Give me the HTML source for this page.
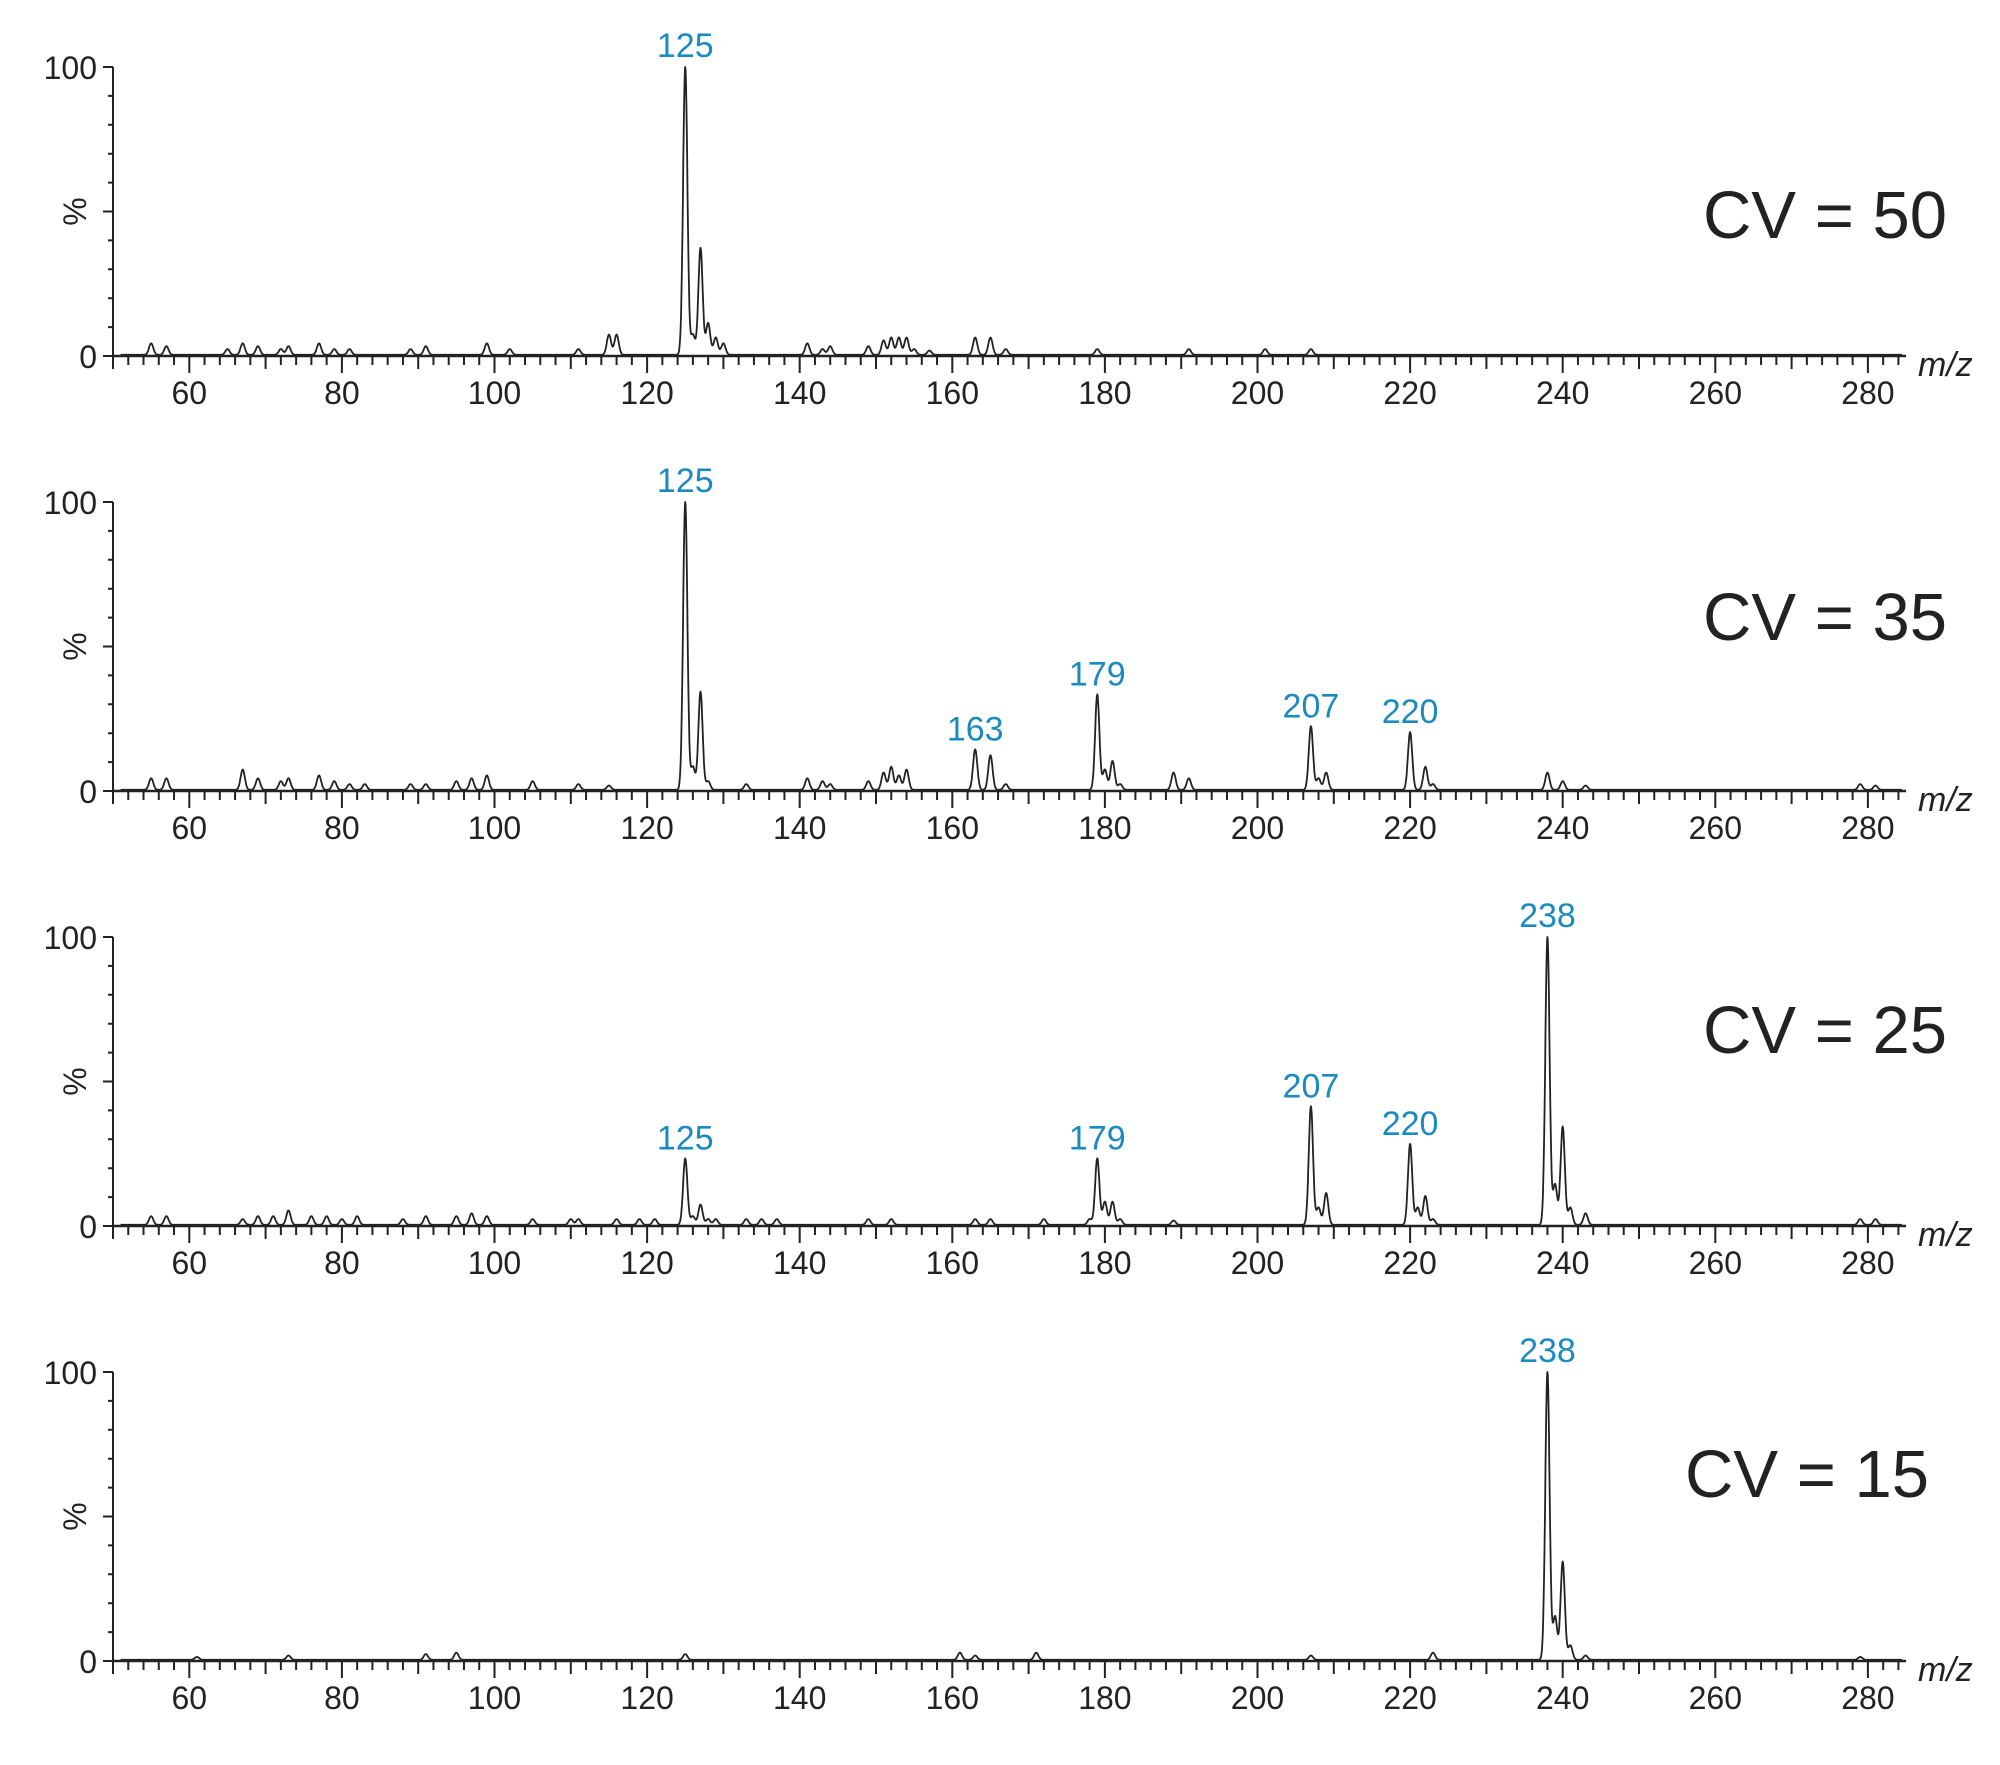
<!DOCTYPE html>
<html><head><meta charset="utf-8">
<style>
html,body{margin:0;padding:0;background:#fff;}
svg{display:block;font-family:"Liberation Sans",Arial,sans-serif;}
</style></head>
<body>
<svg id="chart" width="2000" height="1765" viewBox="0 0 2000 1765" xmlns="http://www.w3.org/2000/svg"></svg>
<script>
// ---- data ----
const panelTitles = ["CV = 50","CV = 35","CV = 25","CV = 15"];
const xTickLabels = [60,80,100,120,140,160,180,200,220,240,260,280];
const yTickLabels = ["100","%","0"];
const peaksCV50 = [[125,100],[126,7],[127,37],[128,11],[129,6],[130,4],[115,7],[116,7],[55,4],[57,3],[65,2],[67,4],[69,3],[72,2],[73,3],[77,4],[79,2],[81,2],[89,2],[91,3],[99,4],[102,2],[111,2],[141,4],[143,2],[144,3],[149,3],[151,5],[152,6],[153,6],[154,6],[155,2],[157,1.5],[163,6],[165,6],[167,2],[179,2],[191,2],[201,2],[207,2]];
const peaksCV35 = [[125,100],[126,8],[127,34],[128,3],[55,4],[57,4],[67,7],[69,4],[72,3],[73,4],[77,5],[79,3],[81,2],[83,2],[89,2],[91,2],[95,3],[97,4],[99,5],[105,3],[111,2],[115,1.5],[133,2],[141,4],[143,3],[144,2],[149,3],[151,6],[152,8],[153,5],[154,7],[163,14],[165,12],[167,2],[179,33],[180,7],[181,10],[182,2],[189,6],[191,4],[207,22],[208,4],[209,6],[220,20],[222,8],[223,2],[238,6],[240,3],[243,1.5],[279,2],[281,1.5]];
const peaksCV25 = [[125,23],[126,3],[127,7],[128,2],[179,23],[180,8],[181,8],[182,2],[207,41],[208,6],[209,11],[220,28],[221,6],[222,10],[223,2],[238,100],[239,14],[240,34],[241,6],[243,4],[55,3],[57,3],[67,2],[69,3],[71,3],[73,5],[76,3],[78,3],[80,2],[82,3],[88,2],[91,3],[95,3],[97,4],[99,3],[105,2],[110,2],[111,2],[116,2],[119,2],[121,2],[129,2],[133,2],[135,2],[137,2],[149,2],[152,2],[163,2],[165,2],[172,2],[178,2],[189,1.5],[279,2],[281,2]];
const peaksCV15 = [[238,100],[239,15],[240,34],[241,5],[243,1.5],[61,1],[73,1.5],[91,2],[95,2.5],[125,2],[161,2.5],[163,1.5],[171,2.5],[207,1.5],[223,2.5],[279,1]];
const labelsCV50 = [[125,100]];
const labelsCV35 = [[125,100],[163,14],[179,33],[207,22],[220,20]];
const labelsCV25 = [[125,23],[179,23],[207,41],[220,28],[238,100]];
const labelsCV15 = [[238,100]];

// ---- layout ----
const peaksAll=[peaksCV50,peaksCV35,peaksCV25,peaksCV15];
const labelsAll=[labelsCV50,labelsCV35,labelsCV25,labelsCV15];
const titlePos=[[1825,238],[1825,640],[1825,1053],[1807,1497]];
const X0=113, XMIN=50, XMAX=285, PXU=7.63;
const xs=m=>X0+(m-XMIN)*PXU;
const NS="http://www.w3.org/2000/svg";
const svg=document.getElementById('chart');
function mk(tag,attrs,parent){const e=document.createElementNS(NS,tag);for(const k in attrs)e.setAttribute(k,attrs[k]);(parent||svg).appendChild(e);return e;}

for(let p=0;p<4;p++){
  const top=67+p*435, zero=top+289, H=zero-top;
  const ys=v=>zero-v/100*H;
  const g=mk('g',{});
  
  
  // spectrum line
  const pk=peaksAll[p]; let d='';
  for(let m=XMIN+1;m<=XMAX-0.5;m+=0.05){
    let v=0.4;
    for(const [c,a] of pk){const dx=(m-c)/0.28;if(Math.abs(dx)<5)v+=a*Math.exp(-0.5*dx*dx);}
    d+=(d?'L':'M')+xs(m).toFixed(1)+','+ys(Math.min(v,100)).toFixed(1);
  }
  const path=mk('path',{d:d,fill:'none',stroke:'#222',"stroke-width":1.8,"stroke-linejoin":'round'},g);
  
  
  // x axis
  const xa=mk('line',{x1:X0,x2:xs(XMAX),y1:zero,y2:zero,stroke:'#222',"stroke-width":2.5},g);
  
  
  let td='';
  for(let m=XMIN;m<=XMAX;m+=2){const len=(m%20===0)?17:(m%10===0?13:9);td+='M'+xs(m)+','+zero+'v'+len;}
  mk('path',{d:td,stroke:'#222',"stroke-width":2,fill:'none'},g);
  for(const t of xTickLabels){
    const tx=mk('text',{x:xs(t),y:zero+48,"font-size":32,"text-anchor":'middle',fill:'#222'},g);
    tx.textContent=t;
    
    
  }
  const mz=mk('text',{x:1918,y:zero+20,"font-size":34,"font-style":'italic',fill:'#222'},g);
  mz.textContent='m/z';
  
  
  // y axis
  const ya=mk('line',{x1:X0,x2:X0,y1:top,y2:zero,stroke:'#222',"stroke-width":2},g);
  
  
  let yd='';
  for(let v=0;v<=100;v+=10){const len=(v%50===0)?10:5;yd+='M'+X0+','+ys(v)+'h-'+len;}
  mk('path',{d:yd,stroke:'#222',"stroke-width":2,fill:'none'},g);
  const y100=mk('text',{x:97,y:top+12,"font-size":32,"text-anchor":'end',fill:'#222'},g);
  y100.textContent=yTickLabels[0];
  
  
  const y0=mk('text',{x:97,y:zero+12,"font-size":32,"text-anchor":'end',fill:'#222'},g);
  y0.textContent=yTickLabels[2];
  
  
  const pc=mk('text',{x:0,y:0,"font-size":32,"text-anchor":'middle',fill:'#222',transform:'translate(86,'+ys(50)+') rotate(-90)'},g);
  pc.textContent=yTickLabels[1];
  
  
  // peak labels
  for(const [m,v] of labelsAll[p]){
    const lt=mk('text',{x:xs(m),y:ys(v)-10,"font-size":34,"text-anchor":'middle',fill:'#1a8bbf'},g);
    lt.textContent=m;
    
    
  }
  const tt=mk('text',{x:titlePos[p][0],y:titlePos[p][1],"font-size":67,"text-anchor":'middle',fill:'#222'},g);
  tt.textContent=panelTitles[p];
  
  
}
</script>
</body></html>
